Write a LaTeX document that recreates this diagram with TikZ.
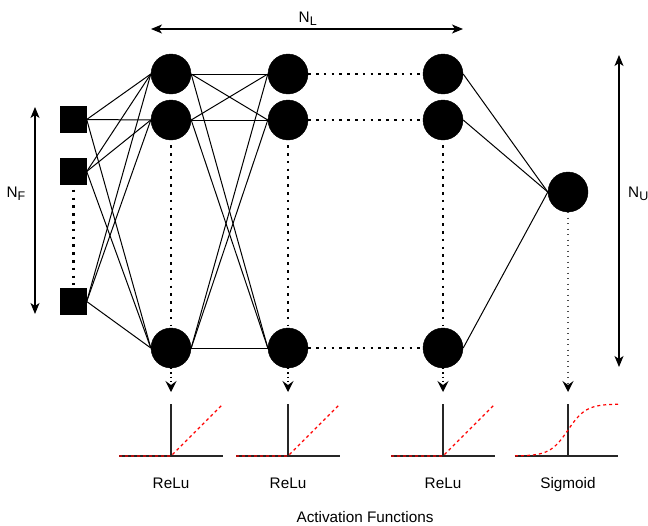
\documentclass[tikz,border=0pt]{standalone}
\usepackage{fontspec}
\setmainfont{Liberation Sans}
\usetikzlibrary{arrows.meta}
% lowered, slightly smaller subscript for the dimension labels
\newcommand\lowsub[1]{\raisebox{-3pt}{\fontsize{12.5}{12.5}\selectfont #1}}
\begin{document}
\begin{tikzpicture}[x=1pt,y=-1pt,
  neuron/.style={circle,fill=black,draw=black,minimum size=40pt,inner sep=0pt},
  feature/.style={rectangle,fill=black,draw=black,minimum size=26pt,inner sep=0pt},
  link/.style={line width=1pt},
  ellipsis/.style={line width=2.6pt,dash pattern=on 2.6pt off 5.2pt},
  span/.style={line width=1.3pt,
    {Stealth[length=11pt,width=9pt,inset=3pt]}-{Stealth[length=11pt,width=9pt,inset=3pt]}},
  feed/.style={line width=1.2pt,dash pattern=on 1.2pt off 3pt,
    -{Stealth[length=11pt,width=11pt,inset=4pt]}},
  thinfeed/.style={line width=1.2pt,black!70,dash pattern=on 1.2pt off 4.3pt,
    -{Stealth[length=11pt,width=11pt,inset=4pt,black]}},
  axis/.style={line width=1.2pt,black!85},
  curve/.style={red,line width=1.2pt,dash pattern=on 3pt off 3pt},
  lbl/.style={font=\fontsize{15.3}{18}\selectfont,inner sep=0pt}
]
\useasboundingbox (0,0) rectangle (648,525);

% input features
\node[feature] (f1) at (73.5,119.5) {};
\node[feature] (f2) at (73.5,171.5) {};
\node[feature] (f3) at (73.5,301.5) {};

% hidden layers
\foreach \l/\x in {a/171,b/288,c/443}{
  \node[neuron] (\l1) at (\x,74) {};
  \node[neuron] (\l2) at (\x,120) {};
  \node[neuron] (\l3) at (\x,348) {};
}
% output unit
\node[neuron] (o) at (568,192) {};

% dense connections
\foreach \i in {1,2,3}{
  \foreach \j in {1,2,3}{
    \draw[link] (f\i.east) -- (a\j.west);
    \draw[link] (a\i.east) -- (b\j.west);
  }
  \draw[link] (c\i.east) -- (o.west);
  \draw[ellipsis] (b\i.east) -- (c\i.west);
}

% vertical ellipses
\draw[ellipsis] ([yshift=-5pt]f2.south) -- ([yshift=3pt]f3.north);
\foreach \l in {a,b,c}{
  \draw[ellipsis] ([yshift=-5pt]\l2.south) -- ([yshift=2pt]\l3.north);
}

% dimension arrows
\coordinate (nf1) at (35,107);
\coordinate (nf2) at (35,314);
\draw[span] (nf1) -- (nf2);
\node[lbl,anchor=base west] (nf) at (6.5,197) {N\lowsub{F}};
\coordinate (nl1) at (151,29);
\coordinate (nl2) at (463,29);
\draw[span] (nl1) -- (nl2);
\node[lbl,anchor=base west] (nl) at (298.5,22) {N\lowsub{L}};
\coordinate (nu1) at (619,55);
\coordinate (nu2) at (619,367);
\draw[span] (nu1) -- (nu2);
\node[lbl,anchor=base west] (nu) at (628,197) {N\lowsub{U}};

% activation feeds
\foreach \l/\x in {a/171,b/288,c/443}{
  \coordinate (\l t) at (\x,392);
  \draw[feed] (\l3.south) -- (\l t);
}
\coordinate (ot) at (568,392);
\draw[thinfeed] (o.south) -- (ot);

% ReLu plots
\foreach \x in {171,288,443}{
  \draw[axis] (\x,404) -- (\x,456);
  \draw[axis] (\x-52,456) -- (\x+52,456);
  \draw[curve] (\x-52,456) -- (\x,456) -- (\x+52,404);
}
% sigmoid plot
\draw[axis] (568,404) -- (568,456);
\draw[axis] (515,456) -- (618,456);
\draw[curve] plot[domain=515:618,samples=60] (\x,{456-52/(1+exp(-(\x-568)/9))});

% captions
\node[lbl,anchor=base] (r1) at (171,488) {ReLu};
\node[lbl,anchor=base] (r2) at (288,488) {ReLu};
\node[lbl,anchor=base] (r3) at (443,488) {ReLu};
\node[lbl,anchor=base] (sg) at (568,488) {Sigmoid};
\node[lbl,anchor=base] (af) at (365,522) {Activation Functions};
\end{tikzpicture}
\end{document}
